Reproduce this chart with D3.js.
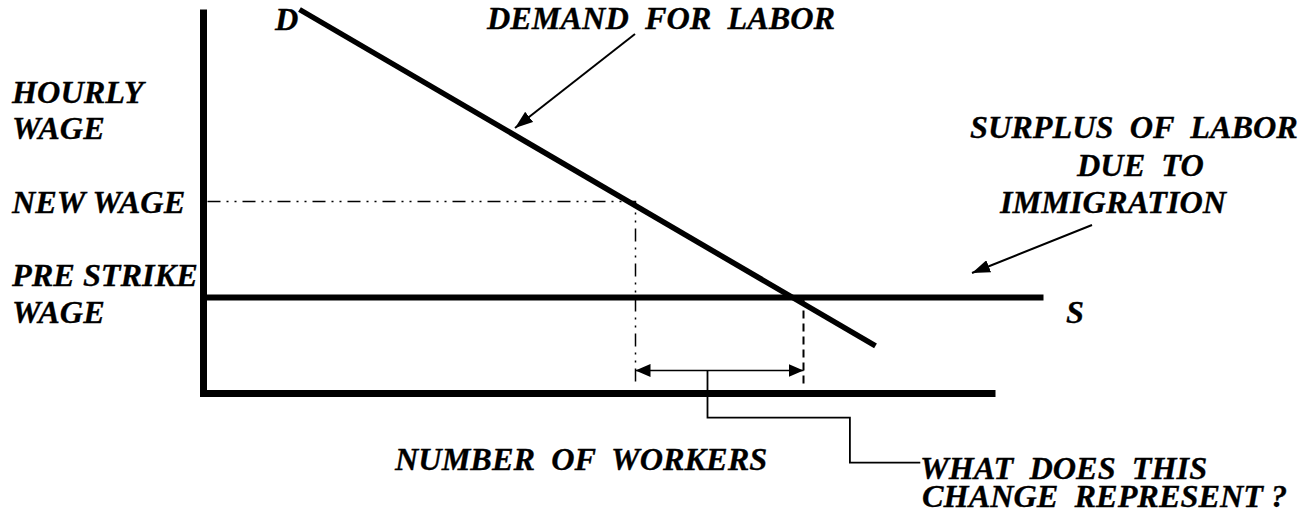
<!DOCTYPE html>
<html>
<head>
<meta charset="utf-8">
<script src="https://cdn.jsdelivr.net/npm/d3@7"></script>
<style>
  html, body { margin: 0; padding: 0; background: #fff; }
  text { font-family: "Liberation Serif", "Times New Roman", serif; font-weight: bold; font-style: italic; font-size: 32.3px; fill: #000; stroke: #000; stroke-width: 0.3px; white-space: pre; }
</style>
</head>
<body>
<script>
  // values (quantity 0..100, wage 0..100)
  const demandPts = [[12, 100], [84, 12.4]];
  const supplyPts = [[0, 25], [105, 25]];
  const newWage = 50;
  const newWageQty = 54;
  const equilibriumQty = 75;
  const dashBottom = [2.5, 1.5];
  const changeY = 6;
  const calloutPts = [[63, 6], [63, -6.3], [80.8, -6.3], [80.8, -18], [89.6, -18]];
  const axisEnd = [99, 100];

  const wageLabels = ["HOURLY", "WAGE"];
  const newWageLabel = "NEW WAGE";
  const preStrikeLabels = ["PRE STRIKE", "WAGE"];
  const demandLabel = "DEMAND  FOR  LABOR";
  const surplusLabels = ["SURPLUS  OF  LABOR", "DUE  TO", "IMMIGRATION"];
  const xTitle = "NUMBER  OF  WORKERS";
  const questionLabels = ["WHAT  DOES  THIS", "CHANGE  REPRESENT ?"];

  const w = 1311;
  const h = 513;

  const xScale = d3.scaleLinear().domain([0, 100]).range([203.5, 1003.5]);
  const yScale = d3.scaleLinear().domain([0, 100]).range([393.5, 9.5]);

  const line = d3.line()
                 .x((d) => xScale(d[0]))
                 .y((d) => yScale(d[1]));

  const svg = d3.select("body")
                .append("svg")
                .attr("width", w)
                .attr("height", h);

  const defs = svg.append("defs");
  function addHead(id, len, wid) {
    defs.append("marker")
        .attr("id", id)
        .attr("viewBox", `0 0 ${len} ${wid}`)
        .attr("markerWidth", len)
        .attr("markerHeight", wid)
        .attr("markerUnits", "userSpaceOnUse")
        .attr("refX", len)
        .attr("refY", wid / 2)
        .attr("orient", "auto-start-reverse")
      .append("path")
        .attr("d", `M0,0L${len},${wid / 2}L0,${wid}Z`)
        .attr("fill", "#000");
  }
  addHead("small", 15, 13);
  addHead("big", 18, 13);

  // axes
  svg.append("line")
     .attr("x1", xScale(0)).attr("x2", xScale(0))
     .attr("y1", yScale(0) + 3.5).attr("y2", yScale(axisEnd[1]))
     .attr("stroke", "#000").attr("stroke-width", 7);
  svg.append("line")
     .attr("x1", xScale(0) - 3.5).attr("x2", xScale(axisEnd[0]))
     .attr("y1", yScale(0)).attr("y2", yScale(0))
     .attr("stroke", "#000").attr("stroke-width", 7);

  // new wage guide (dash dot dot)
  svg.append("path")
     .attr("d", line([[0.5, newWage], [newWageQty, newWage], [newWageQty, dashBottom[0]]]))
     .attr("fill", "none").attr("stroke", "#000").attr("stroke-width", 1.5)
     .attr("stroke-dasharray", "13,6,2,6,2,6");

  // equilibrium guide
  svg.append("path")
     .attr("d", line([[equilibriumQty, supplyPts[0][1]], [equilibriumQty, dashBottom[1]]]))
     .attr("fill", "none").attr("stroke", "#000").attr("stroke-width", 2)
     .attr("stroke-dasharray", "8,5");

  // supply and demand
  svg.append("path")
     .attr("d", line(supplyPts))
     .attr("stroke", "#000").attr("stroke-width", 6);
  svg.append("path")
     .attr("d", line(demandPts))
     .attr("stroke", "#000").attr("stroke-width", 5.5);

  // change arrow and callout
  svg.append("path")
     .attr("d", line([[newWageQty, changeY], [equilibriumQty, changeY]]))
     .attr("stroke", "#000").attr("stroke-width", 1.5)
     .attr("marker-start", "url(#small)")
     .attr("marker-end", "url(#small)");
  svg.append("path")
     .attr("d", line(calloutPts))
     .attr("fill", "none").attr("stroke", "#000").attr("stroke-width", 1.8);

  // pointer arrows
  svg.append("line")
     .attr("x1", 635).attr("y1", 34).attr("x2", 515).attr("y2", 128)
     .attr("stroke", "#000").attr("stroke-width", 2)
     .attr("marker-end", "url(#big)");
  svg.append("line")
     .attr("x1", 1092).attr("y1", 225).attr("x2", 972).attr("y2", 273)
     .attr("stroke", "#000").attr("stroke-width", 2)
     .attr("marker-end", "url(#big)");

  function label(txt, x, y) {
    svg.append("text")
       .attr("x", x).attr("y", y)
       .attr("xml:space", "preserve")
       .text(txt);
  }

  label("D", 275, 30);
  label(demandLabel, 487, 29);
  label(wageLabels[0], 12, 103);
  label(wageLabels[1], 12, 139);
  label(newWageLabel, 12, yScale(newWage) + 11.5);
  label(preStrikeLabels[0], 12, yScale(supplyPts[0][1]) - 11.5);
  label(preStrikeLabels[1], 12, yScale(supplyPts[0][1]) + 25.5);
  label(surplusLabels[0], 970, 138);
  label(surplusLabels[1], 1077, 176);
  label(surplusLabels[2], 1000, 213);
  label("S", 1066, yScale(supplyPts[0][1]) + 25.5);
  label(xTitle, 395, 470);
  label(questionLabels[0], 920, 479);
  label(questionLabels[1], 922, 507);
</script>
</body>
</html>
